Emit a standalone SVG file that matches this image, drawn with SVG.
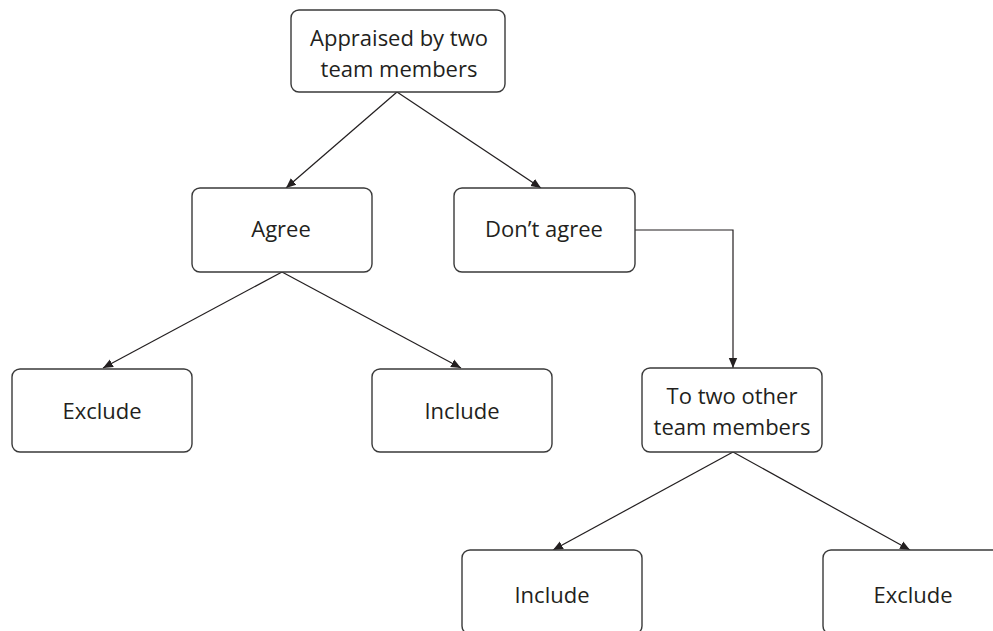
<svg xmlns="http://www.w3.org/2000/svg" width="993" height="631" viewBox="0 0 993 631">
  <style>
    .box { fill: #ffffff; stroke: #3a3a3a; stroke-width: 1.4; }
    .lbl { font-family: "Open Sans", "Noto Sans", "Liberation Sans", sans-serif; font-size: 22px; fill: #231f20; text-anchor: middle; }
    .edge { fill: none; stroke: #231f20; stroke-width: 1.2; }
  </style>
  <defs>
    <marker id="arrow" viewBox="0 0 10 10" refX="10" refY="5" markerWidth="10" markerHeight="10" markerUnits="userSpaceOnUse" orient="auto">
      <path d="M0,0.8 L10,5 L0,9.2 Z" fill="#231f20"/>
    </marker>
  </defs>
  <rect width="993" height="631" fill="#ffffff"/>

  <g id="connectors">
    <line class="edge" x1="397" y1="92" x2="286" y2="188" marker-end="url(#arrow)"/>
    <line class="edge" x1="397" y1="92" x2="541" y2="188" marker-end="url(#arrow)"/>
    <line class="edge" x1="282" y1="272" x2="103" y2="368" marker-end="url(#arrow)"/>
    <line class="edge" x1="282" y1="272" x2="461" y2="368" marker-end="url(#arrow)"/>
    <polyline class="edge" points="635,230 733,230 733,368" marker-end="url(#arrow)"/>
    <line class="edge" x1="733" y1="452" x2="553" y2="550" marker-end="url(#arrow)"/>
    <line class="edge" x1="733" y1="452" x2="910" y2="550" marker-end="url(#arrow)"/>
  </g>

  <g id="appraised">
    <rect class="box" x="291" y="10" width="214" height="82" rx="8"/>
    <text class="lbl" x="399" y="46">Appraised by two</text>
    <text class="lbl" x="399" y="76.5">team members</text>
  </g>

  <g id="agree">
    <rect class="box" x="192" y="188" width="180" height="84" rx="8"/>
    <text class="lbl" x="281" y="237">Agree</text>
  </g>

  <g id="dont-agree">
    <rect class="box" x="454" y="188" width="181" height="84" rx="8"/>
    <text class="lbl" x="544" y="237">Don’t agree</text>
  </g>

  <g id="exclude-1">
    <rect class="box" x="12" y="369" width="180" height="83" rx="8"/>
    <text class="lbl" x="102" y="419">Exclude</text>
  </g>

  <g id="include-1">
    <rect class="box" x="372" y="369" width="180" height="83" rx="8"/>
    <text class="lbl" x="462" y="419">Include</text>
  </g>

  <g id="second-review">
    <rect class="box" x="642" y="368" width="180" height="84" rx="8"/>
    <text class="lbl" x="732" y="404">To two other</text>
    <text class="lbl" x="732" y="434.5">team members</text>
  </g>

  <g id="include-2">
    <rect class="box" x="462" y="550" width="180" height="84" rx="8"/>
    <text class="lbl" x="552" y="603">Include</text>
  </g>

  <g id="exclude-2">
    <rect class="box" x="823" y="550" width="180" height="84" rx="8"/>
    <text class="lbl" x="913" y="603">Exclude</text>
  </g>
</svg>
